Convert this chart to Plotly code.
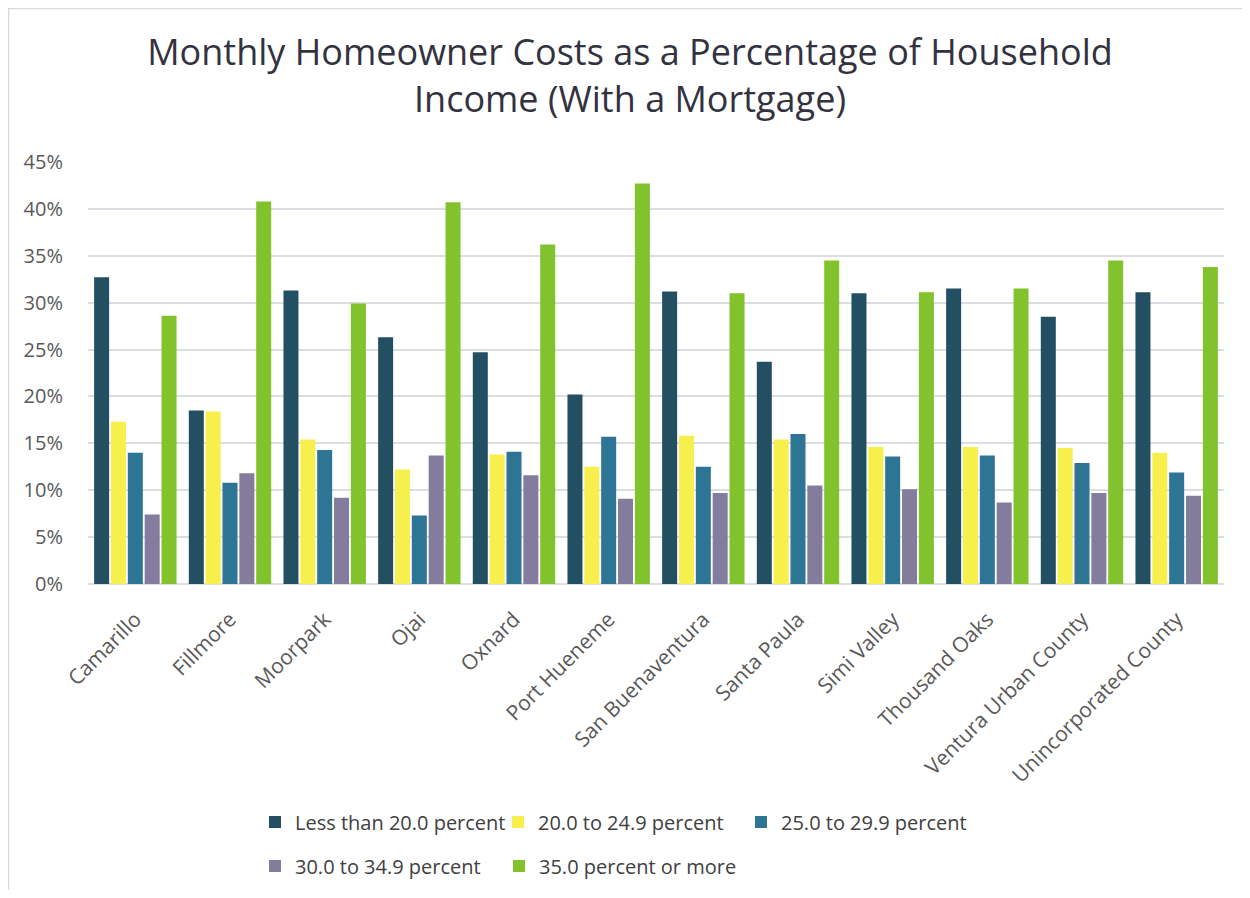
import plotly.graph_objects as go

categories = ["Camarillo", "Fillmore", "Moorpark", "Ojai", "Oxnard", "Port Hueneme",
              "San Buenaventura", "Santa Paula", "Simi Valley", "Thousand Oaks",
              "Ventura Urban County", "Unincorporated County"]

less_than_20 = [32.7, 18.5, 31.3, 26.3, 24.7, 20.2, 31.2, 23.7, 31.0, 31.5, 28.5, 31.1]
p20_to_24_9 = [17.3, 18.4, 15.4, 12.2, 13.8, 12.5, 15.8, 15.4, 14.6, 14.6, 14.5, 14.0]
p25_to_29_9 = [14.0, 10.8, 14.3, 7.3, 14.1, 15.7, 12.5, 16.0, 13.6, 13.7, 12.9, 11.9]
p30_to_34_9 = [7.4, 11.8, 9.2, 13.7, 11.6, 9.1, 9.7, 10.5, 10.1, 8.7, 9.7, 9.4]
p35_or_more = [28.6, 40.8, 29.9, 40.7, 36.2, 42.7, 31.0, 34.5, 31.1, 31.5, 34.5, 33.8]

series_names = ["Less than 20.0 percent", "20.0 to 24.9 percent", "25.0 to 29.9 percent",
                "30.0 to 34.9 percent", "35.0 percent or more"]
series_values = [less_than_20, p20_to_24_9, p25_to_29_9, p30_to_34_9, p35_or_more]
series_colors = ["#234f63", "#f6ef4c", "#2e7595", "#837c9d", "#82c22c"]
series_legend = ["legend", "legend", "legend", "legend2", "legend3"]

FONT = "Open Sans"

fig = go.Figure()
for name, vals, col, lg in zip(series_names, series_values, series_colors, series_legend):
    fig.add_trace(go.Bar(
        x=categories, y=[v / 100 for v in vals], name=name,
        marker=dict(color=col, line=dict(width=0)),
        legend=lg,
    ))

# page has an 8px body margin; the figure is sized so the page fits the window
OFF = 8
W, H = 1250 - OFF, 898 - 2 * OFF
L, R = 88 - OFF, W - (1224 - OFF)
T, B = 162 - OFF, H - (584 - OFF)
pw, ph = W - L - R, H - T - B

def px_x(p):
    return (p - OFF - L) / pw

def px_y(p):
    return (H - B - (p - OFF)) / ph

legend_common = dict(
    orientation="h", xanchor="left", yanchor="middle",
    font=dict(family=FONT, size=20, color="#404040"),
    itemsizing="constant",
    bgcolor="rgba(0,0,0,0)", traceorder="normal", borderwidth=0,
)

fig.update_layout(
    width=W, height=H,
    margin=dict(l=L, r=R, t=T, b=B, autoexpand=False),
    paper_bgcolor="white", plot_bgcolor="white",
    font=dict(family=FONT, color="#595959"),
    title=dict(
        text="Monthly Homeowner Costs as a Percentage of Household<br>Income (With a Mortgage)",
        x=(630 - OFF) / W, xanchor="center", xref="container",
        y=1 - (65 - OFF) / H, yanchor="top", yref="container",
        font=dict(family=FONT, size=36, color="#33323f"),
    ),
    barmode="group", bargap=0.11, bargroupgap=0.11,
    yaxis=dict(
        range=[0, 0.45], dtick=0.05, tickformat=".0%",
        showgrid=True, gridcolor="#dcdce3", gridwidth=2,
        zeroline=True, zerolinecolor="#dcdce3", zerolinewidth=2,
        showline=False, ticks="", automargin=False,
        tickfont=dict(family=FONT, size=20, color="#595959"),
        ticklabelstandoff=24,
    ),
    xaxis=dict(
        tickangle=-45, showline=False, ticks="", showgrid=False, automargin=False,
        tickfont=dict(family=FONT, size=21, color="#595959"),
        ticklabelstandoff=18,
    ),
    legend=dict(x=px_x(255), y=px_y(822), entrywidth=198, entrywidthmode="pixels", **legend_common),
    legend2=dict(x=px_x(255), y=px_y(866), **legend_common),
    legend3=dict(x=px_x(499), y=px_y(866), **legend_common),
    shapes=[dict(
        type="rect", xref="paper", yref="paper",
        x0=px_x(OFF + 0.5), x1=px_x(OFF + W - 1), y0=px_y(OFF + H + 20), y1=px_y(OFF + 0.5),
        line=dict(color="#d9d9d9", width=1.5), fillcolor="rgba(0,0,0,0)", layer="below",
    )],
)

fig.write_html("out.html")
